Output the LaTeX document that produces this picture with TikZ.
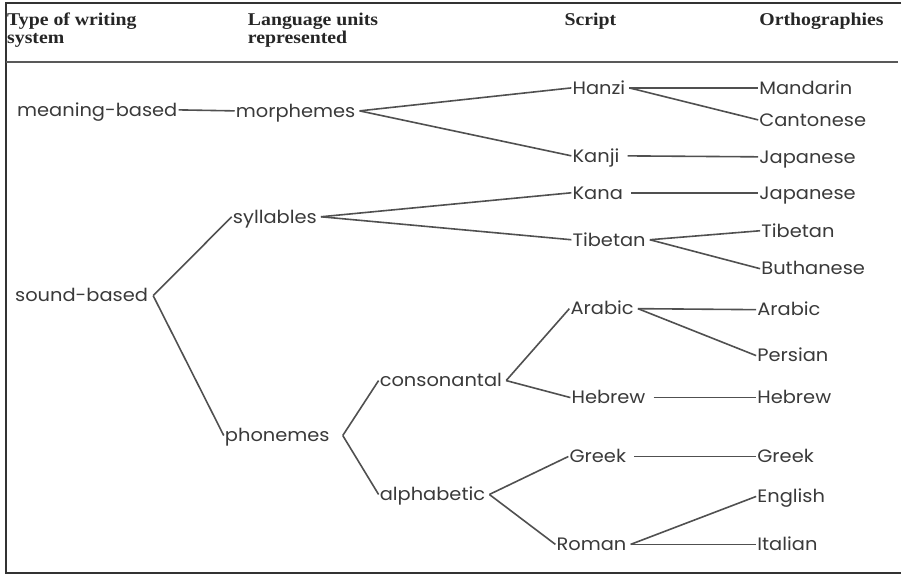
\documentclass[tikz,border=0pt]{standalone}
\usepackage{fontspec}
\setmainfont[FakeStretch=1.08]{Poppins}
\newfontfamily\headfont[FakeStretch=1.1]{Liberation Serif}
\usetikzlibrary{positioning}
\definecolor{ink}{HTML}{3A3A3A}
\definecolor{wire}{HTML}{505050}

\begin{document}
\begin{tikzpicture}[
    x=1pt, y=-1pt,
    every node/.style={font=\fontsize{18}{20}\selectfont, text=ink, inner sep=1pt, anchor=west, text height=12.6pt, text depth=0pt},
    head/.style={font=\headfont\bfseries\fontsize{18}{18}\selectfont, text=black!85, align=left, anchor=north west, inner sep=0pt, text height=, text depth=},
    link/.style={draw=wire, line width=1.6pt},
    gaplink/.style={link, shorten <=7pt}
]
    % Frame
    \fill[white] (0,0) rectangle (902,576);
    \draw[line width=2pt, black!80] (902,3) -- (6,3) -- (6,574) -- (902,574);
    \draw[line width=1.5pt, black!65] (6,62) -- (899,62);

    % Column heads
    \node[head] (hType) at (7,13) {Type of writing\\system};
    \node[head] (hUnits) at (248,13) {Language units\\represented};
    \node[head] (hScript) at (565,13) {Script};
    \node[head] (hOrtho) at (760,13) {Orthographies};

    % Type of writing system
    \node (meaning) at (16,110) {meaning-based};
    \node (sound) at (14,296) {sound-based};

    % Language units
    \node (morph) at (235,111) {morphemes};
    \node (syll) at (232,217) {syllables};
    \node (phon) at (224,436) {phonemes};
    \node (cons) at (379,381) {consonantal};
    \node (alpha) at (379,495) {alphabetic};

    % Scripts
    \node (hanzi) at (572,88) {Hanzi};
    \node (kanji) at (572,156) {Kanji};
    \node (kana) at (572,193) {Kana};
    \node (tibS) at (572,240) {Tibetan};
    \node (arabS) at (570,309) {Arabic};
    \node (hebS) at (571,398) {Hebrew};
    \node (greekS) at (569,457) {Greek};
    \node (roman) at (556,545) {Roman};

    % Orthographies
    \node (mand) at (759,88) {Mandarin};
    \node (cant) at (759,120) {Cantonese};
    \node (japA) at (759,157) {Japanese};
    \node (japB) at (759,193) {Japanese};
    \node (tibO) at (761,231) {Tibetan};
    \node (buth) at (761,269) {Buthanese};
    \node (arabO) at (757,310) {Arabic};
    \node (pers) at (757,356) {Persian};
    \node (hebO) at (757,398) {Hebrew};
    \node (greekO) at (757,457) {Greek};
    \node (engl) at (757,497) {English};
    \node (ital) at (757,545) {Italian};

    % Links - first to second column
    \draw[link] (meaning.east) -- (morph.west);
    \draw[link] ([xshift=4pt]sound.east) -- (syll.west);
    \draw[link] ([xshift=4pt]sound.east) -- (phon.west);
    \draw[link] ([xshift=12pt]phon.east) -- (cons.west);
    \draw[link] ([xshift=12pt]phon.east) -- (alpha.west);

    % Links - units to scripts
    \draw[link] ([xshift=3pt]morph.east) -- (hanzi.west);
    \draw[link] ([xshift=3pt]morph.east) -- (kanji.west);
    \draw[link] ([xshift=3pt]syll.east) -- (kana.west);
    \draw[link] ([xshift=3pt]syll.east) -- (tibS.west);
    \draw[link] ([xshift=3pt]cons.east) -- (arabS.west);
    \draw[link] ([xshift=3pt]cons.east) -- (hebS.west);
    \draw[link] ([xshift=3pt]alpha.east) -- (greekS.west);
    \draw[link] ([xshift=3pt]alpha.east) -- (roman.west);

    % Links - scripts to orthographies
    \draw[link] ([xshift=3pt]hanzi.east) -- (mand.west);
    \draw[link] ([xshift=3pt]hanzi.east) -- (cant.west);
    \draw[gaplink] (kanji.east) -- (japA.west);
    \draw[gaplink] (kana.east) -- (japB.west);
    \draw[link] ([xshift=3pt]tibS.east) -- (tibO.west);
    \draw[link] ([xshift=3pt]tibS.east) -- (buth.west);
    \draw[link] ([xshift=3pt]arabS.east) -- (arabO.west);
    \draw[link] ([xshift=3pt]arabS.east) -- (pers.west);
    \draw[gaplink] (hebS.east) -- (hebO.west);
    \draw[gaplink] (greekS.east) -- (greekO.west);
    \draw[link] ([xshift=3pt]roman.east) -- (engl.west);
    \draw[link] ([xshift=3pt]roman.east) -- (ital.west);
\end{tikzpicture}
\end{document}
